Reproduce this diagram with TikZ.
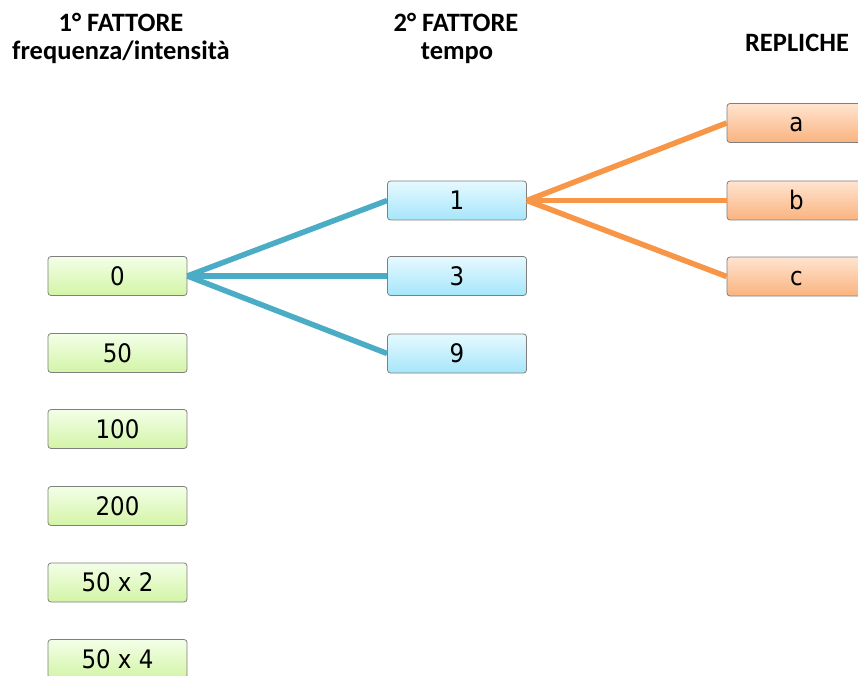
\documentclass[tikz,border=0pt]{standalone}
\usepackage{fontspec}
\setmainfont{Carlito}
\newfontfamily\boxfont{DejaVu Sans Condensed}
\usetikzlibrary{positioning}

\definecolor{greenTop}{HTML}{F3FFE8}
\definecolor{greenBot}{HTML}{D3F4A6}
\definecolor{blueTop}{HTML}{E6F9FF}
\definecolor{blueBot}{HTML}{A6E6FA}
\definecolor{orangeTop}{HTML}{FFE4D0}
\definecolor{orangeBot}{HTML}{FAB37F}
\definecolor{boxBorder}{HTML}{7F7F7F}
\definecolor{linkBlue}{HTML}{4BACC6}
\definecolor{linkOrange}{HTML}{F79646}

\tikzset{
  levelbox/.style={rectangle, rounded corners=3pt, draw=boxBorder, line width=0.8pt,
    minimum width=139pt, minimum height=39pt, inner sep=0pt,
    text height=18pt, text depth=0pt,
    font=\boxfont\fontsize{25.5}{28}\selectfont},
  factorA/.style={levelbox, top color=greenTop, bottom color=greenBot},
  factorB/.style={levelbox, top color=blueTop, bottom color=blueBot},
  replica/.style={levelbox, top color=orangeTop, bottom color=orangeBot},
  heading/.style={anchor=base, inner sep=0pt, font=\bfseries\fontsize{26.5}{30}\selectfont},
  linkA/.style={draw=linkBlue, line width=5.5pt},
  linkB/.style={draw=linkOrange, line width=5.5pt},
}

\begin{document}
\begin{tikzpicture}[x=1pt, y=-1pt]
  \useasboundingbox (0,0) rectangle (858,676);

  % column headings
  \node[heading] (h1a) at (121,32) {1° FATTORE};
  \node[heading] (h1b) at (121,60) {frequenza/intensità};
  \node[heading] (h2a) at (456,32) {2° FATTORE};
  \node[heading] (h2b) at (457,60) {tempo};
  \node[heading] (h3)  at (797,52) {REPLICHE};

  % first factor: frequency / intensity
  \node[factorA] (f0)   at (117.5,276)   {0};
  \node[factorA] (f50)  at (117.5,353)   {50};
  \node[factorA] (f100) at (117.5,429)   {100};
  \node[factorA] (f200) at (117.5,506)   {200};
  \node[factorA] (f50x2) at (117.5,582.5) {50 x 2};
  \node[factorA] (f50x4) at (117.5,659)  {50 x 4};

  % second factor: time
  \node[factorB] (t1) at (457,200.5) {1};
  \node[factorB] (t3) at (457,276)   {3};
  \node[factorB] (t9) at (457,353.5) {9};

  % replicates
  \node[replica] (ra) at (796.5,123)   {a};
  \node[replica] (rb) at (796.5,200.5) {b};
  \node[replica] (rc) at (796.5,276.5) {c};

  % branches
  \draw[linkA] (f0.east) -- (t1.west);
  \draw[linkA] (f0.east) -- (t3.west);
  \draw[linkA] (f0.east) -- (t9.west);
  \draw[linkB] (t1.east) -- (ra.west);
  \draw[linkB] (t1.east) -- (rb.west);
  \draw[linkB] (t1.east) -- (rc.west);
\end{tikzpicture}
\end{document}
